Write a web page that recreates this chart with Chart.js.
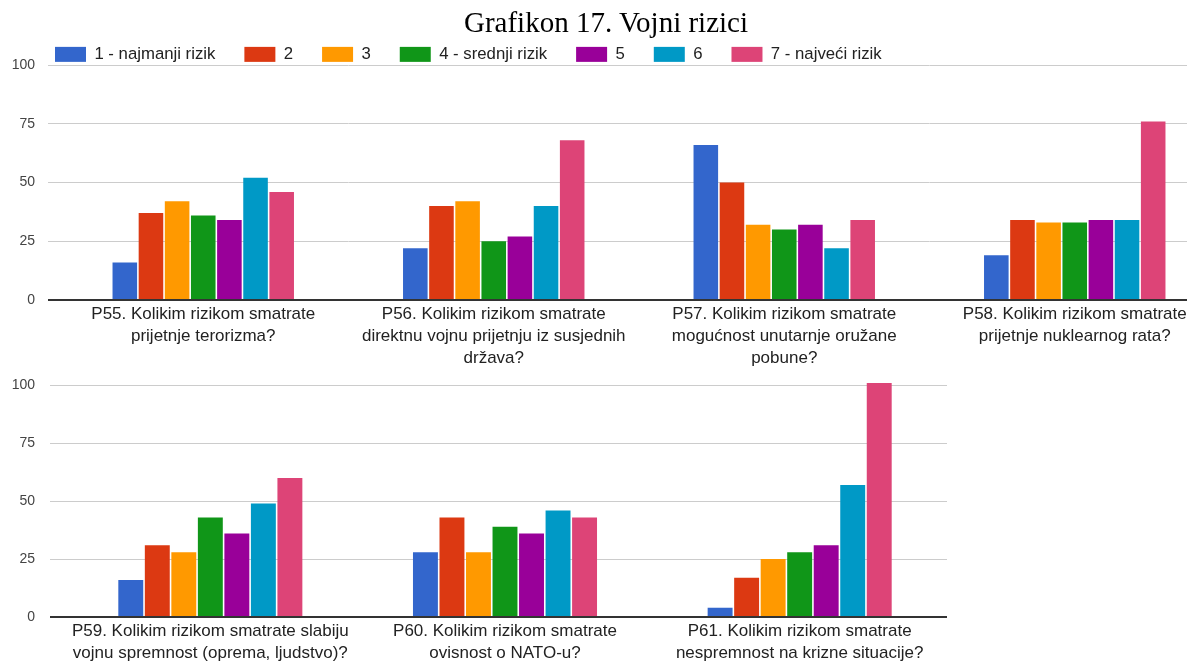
<!DOCTYPE html>
<html>
<head>
<meta charset="utf-8">
<script src="https://cdn.jsdelivr.net/npm/chart.js@4.4.1/dist/chart.umd.min.js"></script>
<style>
html,body{margin:0;padding:0;background:#fff;overflow:hidden;}
#wrap{position:relative;width:1187px;height:662px;overflow:hidden;background:#fff;}
#title{position:absolute;left:0;top:8px;width:1212px;text-align:center;font-family:'Liberation Serif','Times New Roman',serif;font-size:29px;line-height:29px;color:#000;white-space:nowrap;}
#c1{position:absolute;left:0;top:0;width:1220px;height:385px;}
#c2{position:absolute;left:0;top:362px;width:947px;height:300px;}
</style>
</head>
<body>
<div id="wrap">
<canvas id="c1" width="1220" height="385"></canvas>
<canvas id="c2" width="947" height="300"></canvas>
<div id="title">Grafikon 17. Vojni rizici</div>
</div>
<script>
// ---- data ----
const categories = [
  ["P55. Kolikim rizikom smatrate", "prijetnje terorizma?"],
  ["P56. Kolikim rizikom smatrate", "direktnu vojnu prijetnju iz susjednih", "država?"],
  ["P57. Kolikim rizikom smatrate", "mogućnost unutarnje oružane", "pobune?"],
  ["P58. Kolikim rizikom smatrate", "prijetnje nuklearnog rata?"],
  ["P59. Kolikim rizikom smatrate slabiju", "vojnu spremnost (oprema, ljudstvo)?"],
  ["P60. Kolikim rizikom smatrate", "ovisnost o NATO-u?"],
  ["P61. Kolikim rizikom smatrate", "nespremnost na krizne situacije?"]
];
const seriesNames = ["1 - najmanji rizik", "2", "3", "4 - srednji rizik", "5", "6", "7 - najveći rizik"];
const level1 = [16, 22, 66, 19, 16, 28, 4];
const level2 = [37, 40, 50, 34, 31, 43, 17];
const level3 = [42, 42, 32, 33, 28, 28, 25];
const level4 = [36, 25, 30, 33, 43, 39, 28];
const level5 = [34, 27, 32, 34, 36, 36, 31];
const level6 = [52, 40, 22, 34, 49, 46, 57];
const level7 = [46, 68, 34, 76, 60, 43, 101];
const yTicks = [0, 25, 50, 75, 100];
const topCount = 4;

// ---- styling ----
const seriesColors = ["#3366cc", "#dc3912", "#ff9900", "#109618", "#990099", "#0099c6", "#dd4477"];
const levels = [level1, level2, level3, level4, level5, level6, level7];
Chart.defaults.font.family = "'Liberation Sans', Arial, sans-serif";
Chart.defaults.color = "#222";

function makeDatasets(from, to) {
  return levels.map((arr, i) => ({
    label: seriesNames[i],
    data: arr.slice(from, to),
    backgroundColor: seriesColors[i],
    borderWidth: 0,
    categoryPercentage: 0.63,
    barPercentage: 0.94,
    clip: false
  }));
}

function makeOptions(cfg) {
  return {
    responsive: false,
    animation: false,
    devicePixelRatio: 1,
    events: [],
    layout: { padding: cfg.padding },
    plugins: {
      title: { display: false },
      tooltip: { enabled: false },
      legend: cfg.legend
    },
    scales: {
      x: {
        z: 1,
        grid: { display: false, drawTicks: false, tickLength: 0 },
        border: { display: true, color: "#333", width: 2 },
        ticks: {
          autoSkip: false, maxRotation: 0, minRotation: 0, padding: 3,
          color: "#222",
          font: { size: 17, lineHeight: 1.3 }
        },
        afterFit: s => { s.height = cfg.xHeight; }
      },
      y: {
        min: 0, max: 100,
        afterBuildTicks: s => { s.ticks = yTicks.map(v => ({ value: v })); },
        border: { display: false },
        grid: {
          drawTicks: true,
          tickLength: cfg.tickLength,
          color: c => (c.tick && c.tick.value === 0) ? "#333" : "#cccccc",
          lineWidth: c => (c.tick && c.tick.value === 0) ? 2 : 1
        },
        ticks: {
          padding: cfg.tickPad,
          color: "#444",
          font: { size: 14 }
        },
        afterFit: s => { s.width = cfg.yWidth; }
      }
    }
  };
}

// shift the legend row right so it starts where the reference legend starts
const legendShift = {
  id: "legendShift",
  afterLayout(chart, args, opts) {
    if (chart.legend && opts.dx) {
      chart.legend.left += opts.dx;
    }
  }
};

new Chart(document.getElementById("c1"), {
  type: "bar",
  data: { labels: categories.slice(0, topCount), datasets: makeDatasets(0, topCount) },
  plugins: [legendShift],
  options: Object.assign(makeOptions({
    padding: { left: 0, top: 17, right: 0, bottom: 0 },
    xHeight: 85, yWidth: 58, tickLength: 10, tickPad: 13,
    legend: {
      display: true,
      position: "top",
      align: "start",
      maxHeight: 48,
      labels: {
        boxWidth: 31, boxHeight: 15, padding: 29,
        color: "#222",
        font: { size: 16.75 }
      }
    }
  }), {})
});
Chart.getChart("c1").options.plugins.legendShift = { dx: 26 };
Chart.getChart("c1").update();

new Chart(document.getElementById("c2"), {
  type: "bar",
  data: { labels: categories.slice(topCount), datasets: makeDatasets(topCount, categories.length) },
  options: makeOptions({
    padding: { left: 0, top: 20, right: 0, bottom: 0 },
    xHeight: 45, yWidth: 63, tickLength: 13, tickPad: 15,
    legend: { display: false }
  })
});
</script>
</body>
</html>
